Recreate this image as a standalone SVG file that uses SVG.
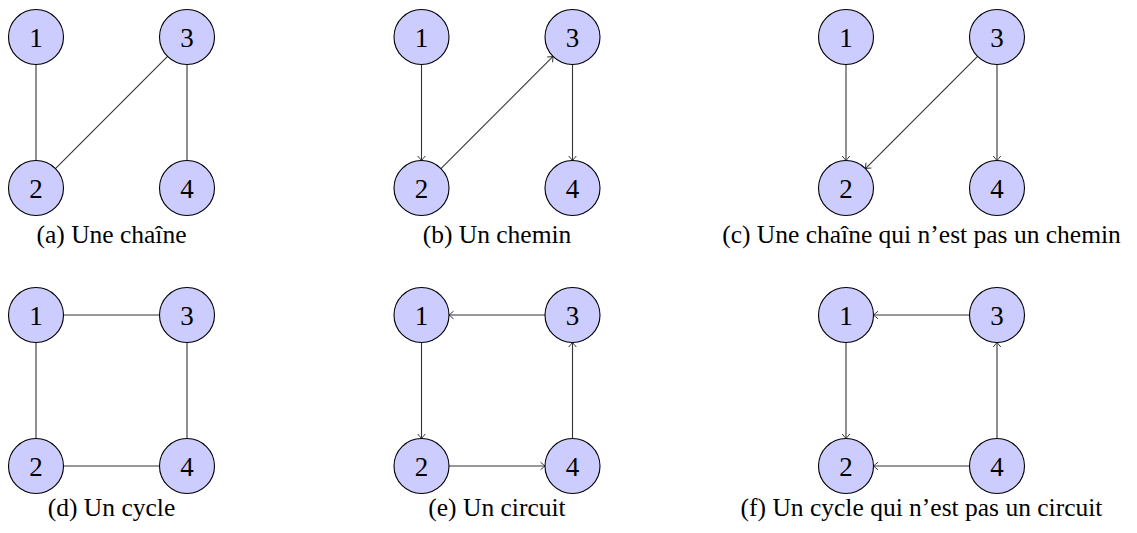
<svg xmlns="http://www.w3.org/2000/svg" width="1137" height="533" viewBox="0 0 1137 533">
<style>
.n circle{fill:#ccccff;stroke:#000;stroke-width:1.1}
.n text{font-family:"Liberation Serif","DejaVu Serif",serif;font-size:27px;text-anchor:middle;fill:#000}
.cap{font-family:"Liberation Serif","Times New Roman",serif;font-size:25.5px;text-anchor:middle;fill:#000}
.e line{stroke:#333;stroke-width:1.1;fill:none}
.e line.a{marker-end:url(#arr)}
</style>
<defs>
<marker id="arr" viewBox="-6 -5 7 10" refX="0" refY="0" markerWidth="7" markerHeight="10" orient="auto" markerUnits="userSpaceOnUse">
<path d="M-4.5,-3.8 Q-1.2,-1 0,0 Q-1.2,1 -4.5,3.8" fill="none" stroke="#333" stroke-width="1"/>
</marker>
</defs>
<rect width="1137" height="533" fill="#fff"/>
<g id="connectors" class="e">
<line x1="36" y1="64.5" x2="36" y2="160.5"/>
<line x1="55.45" y1="168.55" x2="167.55" y2="56.45"/>
<line x1="187" y1="64.5" x2="187" y2="160.5"/>
<line class="a" x1="421.5" y1="64.5" x2="421.5" y2="160.5"/>
<line class="a" x1="440.95" y1="168.55" x2="553.05" y2="56.45"/>
<line class="a" x1="572.5" y1="64.5" x2="572.5" y2="160.5"/>
<line class="a" x1="846" y1="64.5" x2="846" y2="160.5"/>
<line class="a" x1="977.55" y1="56.45" x2="865.45" y2="168.55"/>
<line class="a" x1="997" y1="64.5" x2="997" y2="160.5"/>
<line x1="63.5" y1="315" x2="159.5" y2="315"/>
<line x1="36" y1="342.5" x2="36" y2="438.5"/>
<line x1="187" y1="342.5" x2="187" y2="438.5"/>
<line x1="63.5" y1="466" x2="159.5" y2="466"/>
<line class="a" x1="545" y1="315" x2="449" y2="315"/>
<line class="a" x1="421.5" y1="342.5" x2="421.5" y2="438.5"/>
<line class="a" x1="449" y1="466" x2="545" y2="466"/>
<line class="a" x1="572.5" y1="438.5" x2="572.5" y2="342.5"/>
<line class="a" x1="969.5" y1="315" x2="873.5" y2="315"/>
<line class="a" x1="846" y1="342.5" x2="846" y2="438.5"/>
<line class="a" x1="969.5" y1="466" x2="873.5" y2="466"/>
<line class="a" x1="997" y1="438.5" x2="997" y2="342.5"/>
</g>
<g id="a1" class="n"><circle cx="36" cy="37" r="27.5"/><text x="36" y="46.5">1</text></g>
<g id="a2" class="n"><circle cx="36" cy="188" r="27.5"/><text x="36" y="197.5">2</text></g>
<g id="a3" class="n"><circle cx="187" cy="37" r="27.5"/><text x="187" y="46.5">3</text></g>
<g id="a4" class="n"><circle cx="187" cy="188" r="27.5"/><text x="187" y="197.5">4</text></g>
<g id="b1" class="n"><circle cx="421.5" cy="37" r="27.5"/><text x="421.5" y="46.5">1</text></g>
<g id="b2" class="n"><circle cx="421.5" cy="188" r="27.5"/><text x="421.5" y="197.5">2</text></g>
<g id="b3" class="n"><circle cx="572.5" cy="37" r="27.5"/><text x="572.5" y="46.5">3</text></g>
<g id="b4" class="n"><circle cx="572.5" cy="188" r="27.5"/><text x="572.5" y="197.5">4</text></g>
<g id="c1" class="n"><circle cx="846" cy="37" r="27.5"/><text x="846" y="46.5">1</text></g>
<g id="c2" class="n"><circle cx="846" cy="188" r="27.5"/><text x="846" y="197.5">2</text></g>
<g id="c3" class="n"><circle cx="997" cy="37" r="27.5"/><text x="997" y="46.5">3</text></g>
<g id="c4" class="n"><circle cx="997" cy="188" r="27.5"/><text x="997" y="197.5">4</text></g>
<g id="d1" class="n"><circle cx="36" cy="315" r="27.5"/><text x="36" y="324.5">1</text></g>
<g id="d2" class="n"><circle cx="36" cy="466" r="27.5"/><text x="36" y="475.5">2</text></g>
<g id="d3" class="n"><circle cx="187" cy="315" r="27.5"/><text x="187" y="324.5">3</text></g>
<g id="d4" class="n"><circle cx="187" cy="466" r="27.5"/><text x="187" y="475.5">4</text></g>
<g id="e1" class="n"><circle cx="421.5" cy="315" r="27.5"/><text x="421.5" y="324.5">1</text></g>
<g id="e2" class="n"><circle cx="421.5" cy="466" r="27.5"/><text x="421.5" y="475.5">2</text></g>
<g id="e3" class="n"><circle cx="572.5" cy="315" r="27.5"/><text x="572.5" y="324.5">3</text></g>
<g id="e4" class="n"><circle cx="572.5" cy="466" r="27.5"/><text x="572.5" y="475.5">4</text></g>
<g id="f1" class="n"><circle cx="846" cy="315" r="27.5"/><text x="846" y="324.5">1</text></g>
<g id="f2" class="n"><circle cx="846" cy="466" r="27.5"/><text x="846" y="475.5">2</text></g>
<g id="f3" class="n"><circle cx="997" cy="315" r="27.5"/><text x="997" y="324.5">3</text></g>
<g id="f4" class="n"><circle cx="997" cy="466" r="27.5"/><text x="997" y="475.5">4</text></g>
<g id="captions">
<text class="cap" x="111.5" y="243">(a) Une chaîne</text>
<text class="cap" x="497" y="243">(b) Un chemin</text>
<text class="cap" x="921.5" y="243">(c) Une chaîne qui n’est pas un chemin</text>
<text class="cap" x="111.5" y="516">(d) Un cycle</text>
<text class="cap" x="497" y="516">(e) Un circuit</text>
<text class="cap" x="921.5" y="516">(f) Un cycle qui n’est pas un circuit</text>
</g>
</svg>
